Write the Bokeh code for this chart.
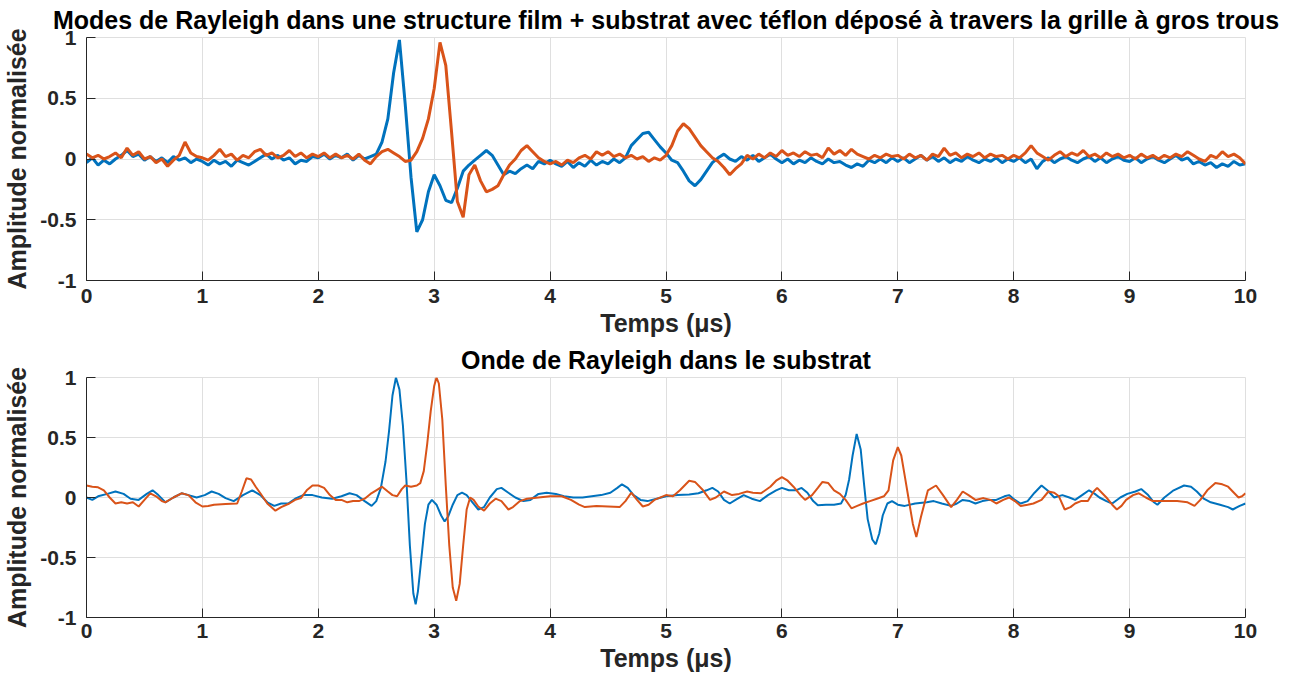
from bokeh.plotting import figure
from bokeh.layouts import column
from bokeh.models import Range1d, FixedTicker
from bokeh.embed import file_html
from bokeh.resources import INLINE

# ---------------- data ----------------
# top plot: sampled every 0.05 us from 0 to 10
top_t = [round(i * 0.05, 2) for i in range(201)]

top_blue = [
    -0.03, 0.01, -0.05, -0.01, -0.04, 0.00, 0.03, 0.07, 0.02, 0.04, -0.01, 0.02, -0.02, 0.01, -0.03, 0.02, -0.01, 0.01, -0.03, 0.00,
    -0.02, -0.05, -0.01, -0.04, -0.02, -0.06, -0.01, -0.03, -0.05, -0.02, 0.01, 0.04, 0.00, 0.03, -0.01, 0.01, -0.04, -0.01, -0.02, 0.02,
    0.01, 0.04, 0.00, 0.03, 0.01, 0.04, -0.01, 0.03, 0.00, 0.02, 0.04, 0.14, 0.33, 0.71, 0.98, 0.45, -0.15, -0.60, -0.50, -0.27,
    -0.13, -0.22, -0.34, -0.36, -0.24, -0.10, -0.05, -0.01, 0.03, 0.07, 0.03, -0.05, -0.13, -0.10, -0.12, -0.08, -0.05, -0.08, -0.02, -0.04,
    -0.01, -0.04, -0.06, -0.02, -0.07, -0.03, -0.06, -0.01, -0.05, -0.02, -0.04, 0.00, -0.03, 0.01, 0.11, 0.16, 0.21, 0.22, 0.16, 0.10,
    0.05, -0.01, -0.03, -0.10, -0.18, -0.22, -0.17, -0.10, -0.03, 0.01, 0.04, 0.00, -0.02, 0.02, -0.01, 0.03, -0.02, 0.01, 0.04, 0.00,
    -0.03, 0.00, -0.04, -0.01, -0.03, 0.01, -0.02, -0.04, 0.00, -0.03, -0.02, -0.05, -0.07, -0.04, -0.06, -0.01, -0.03, 0.00, -0.03, 0.01,
    -0.02, 0.01, -0.03, 0.00, 0.03, -0.01, 0.02, -0.02, 0.01, -0.03, 0.00, -0.02, 0.02, -0.01, -0.03, 0.00, -0.02, 0.01, -0.03, 0.00,
    -0.02, 0.01, -0.03, 0.00, -0.08, -0.02, 0.01, -0.03, 0.00, 0.02, -0.01, -0.03, 0.00, 0.02, -0.02, 0.01, -0.03, 0.00, 0.02, -0.01,
    -0.02, 0.01, -0.03, 0.00, 0.02, -0.01, -0.03, 0.00, 0.03, -0.01, 0.01, -0.04, -0.02, -0.05, -0.03, -0.07, -0.04, -0.06, -0.02, -0.05,
    -0.04,
]

top_orange = [
    0.04, 0.01, 0.03, 0.00, 0.02, 0.05, 0.01, 0.09, 0.03, 0.06, 0.00, 0.02, -0.03, 0.00, -0.06, -0.01, 0.03, 0.14, 0.05, 0.02,
    0.01, -0.01, 0.03, 0.08, 0.02, 0.04, -0.01, 0.03, 0.01, 0.06, 0.08, 0.03, 0.05, 0.01, 0.03, 0.07, 0.02, 0.05, 0.01, 0.04,
    0.02, 0.05, 0.01, 0.04, 0.01, 0.03, 0.00, 0.04, -0.01, -0.04, 0.02, 0.06, 0.08, 0.05, 0.02, -0.02, -0.01, 0.06, 0.17, 0.33,
    0.58, 0.96, 0.77, 0.22, -0.35, -0.48, -0.13, -0.05, -0.18, -0.27, -0.25, -0.22, -0.13, -0.05, 0.00, 0.07, 0.11, 0.06, 0.01, -0.02,
    -0.04, -0.02, -0.05, -0.01, -0.03, 0.01, 0.03, 0.00, 0.06, 0.03, 0.06, 0.02, 0.04, 0.01, 0.03, 0.00, 0.02, -0.02, 0.01, -0.01,
    0.03, 0.11, 0.23, 0.29, 0.25, 0.18, 0.11, 0.06, 0.01, -0.02, -0.07, -0.13, -0.08, -0.04, 0.03, 0.00, 0.04, 0.01, 0.05, 0.02,
    0.07, 0.03, 0.05, 0.02, 0.06, 0.03, 0.04, 0.01, 0.09, 0.04, 0.07, 0.03, 0.08, 0.04, 0.02, 0.00, 0.03, 0.01, 0.04, 0.02,
    0.03, 0.00, 0.04, 0.01, 0.03, -0.01, 0.04, 0.02, 0.09, 0.03, 0.05, 0.01, 0.04, 0.02, 0.05, 0.01, 0.04, 0.02, 0.03, 0.00,
    0.03, 0.01, 0.05, 0.11, 0.05, 0.02, -0.01, 0.03, 0.06, 0.02, 0.05, 0.03, 0.07, 0.02, 0.04, 0.01, 0.05, 0.02, 0.04, 0.01,
    0.03, 0.00, 0.04, 0.01, 0.03, 0.00, 0.03, 0.01, 0.04, 0.02, 0.06, 0.03, 0.00, -0.02, 0.03, 0.01, 0.06, 0.02, 0.04, 0.01,
    -0.04,
]

# bottom plot: read points (time, amplitude)
bot_blue_t = [
    0.00, 0.05, 0.10, 0.18, 0.25, 0.32, 0.38, 0.45, 0.52, 0.57, 0.62, 0.68, 0.75, 0.82, 0.88, 0.95,
    1.02, 1.08, 1.14, 1.20, 1.27, 1.35, 1.43, 1.50, 1.56, 1.62, 1.68, 1.74, 1.80, 1.87, 1.95,
    2.03, 2.12, 2.20, 2.27, 2.33, 2.40, 2.46, 2.50, 2.54, 2.58, 2.61, 2.64, 2.67, 2.70, 2.73, 2.76, 2.79,
    2.82, 2.84, 2.86, 2.89, 2.92, 2.95, 2.98, 3.02, 3.06, 3.09, 3.12, 3.16, 3.20, 3.24, 3.28, 3.33,
    3.38, 3.43, 3.48, 3.54, 3.58, 3.64, 3.70, 3.77, 3.83, 3.90, 3.97, 4.05, 4.12, 4.20, 4.28, 4.36,
    4.44, 4.52, 4.58, 4.62, 4.67, 4.72, 4.78, 4.84, 4.92, 5.00, 5.10, 5.20, 5.28, 5.35, 5.40, 5.45,
    5.50, 5.55, 5.60, 5.67, 5.74, 5.81, 5.88, 5.95, 6.00, 6.06, 6.12, 6.17, 6.22, 6.27, 6.31, 6.38,
    6.45, 6.51, 6.55, 6.58, 6.61, 6.645, 6.68, 6.71, 6.74, 6.78, 6.81, 6.84, 6.87, 6.91, 6.95, 7.00,
    7.06, 7.15, 7.25, 7.31, 7.38, 7.46, 7.51, 7.56, 7.62, 7.67, 7.73, 7.78, 7.85, 7.92, 7.96, 8.01,
    8.06, 8.12, 8.18, 8.24, 8.29, 8.35, 8.42, 8.48, 8.53, 8.59, 8.65, 8.70, 8.74, 8.80, 8.85, 8.92,
    8.98, 9.05, 9.10, 9.16, 9.21, 9.24, 9.30, 9.38, 9.47, 9.53, 9.58, 9.64, 9.70, 9.78, 9.85, 9.89,
    9.95, 10.00,
]
bot_blue = [
    0.00, -0.02, 0.01, 0.03, 0.05, 0.03, -0.01, -0.02, 0.03, 0.06, 0.02, -0.04, 0.00, 0.035, 0.02, 0.00,
    0.02, 0.05, 0.03, -0.005, -0.03, 0.02, 0.06, 0.02, -0.04, -0.07, -0.05, -0.05, -0.01, 0.02, 0.02,
    0.00, -0.01, 0.01, 0.035, 0.02, -0.03, -0.07, -0.03, 0.08, 0.30, 0.55, 0.85, 1.00, 0.90, 0.60, 0.15, -0.40,
    -0.80, -0.89, -0.78, -0.50, -0.22, -0.06, -0.02, -0.06, -0.15, -0.20, -0.16, -0.06, 0.02, 0.04, 0.02, -0.04,
    -0.10, -0.08, 0.00, 0.07, 0.08, 0.04, 0.00, -0.03, -0.02, 0.03, 0.04, 0.03, 0.01, 0.00, 0.00, 0.01,
    0.02, 0.04, 0.08, 0.11, 0.08, 0.02, -0.02, -0.03, -0.01, 0.01, 0.02, 0.025, 0.035, 0.06, 0.08, 0.05,
    -0.02, -0.05, -0.02, 0.02, -0.01, -0.03, 0.02, 0.06, 0.08, 0.06, 0.06, 0.08, 0.04, -0.03, -0.065, -0.06,
    -0.06, -0.05, 0.02, 0.15, 0.35, 0.53, 0.40, 0.10, -0.18, -0.35, -0.39, -0.30, -0.15, -0.05, -0.03, -0.06,
    -0.07, -0.05, -0.04, -0.03, -0.05, -0.07, -0.05, -0.02, -0.03, -0.05, -0.03, -0.02, -0.02, 0.01, 0.02, -0.02,
    -0.05, -0.03, 0.04, 0.10, 0.06, 0.00, 0.02, 0.00, -0.02, 0.02, 0.06, 0.03, 0.00, -0.03, -0.05, 0.00,
    0.03, 0.05, 0.07, 0.02, -0.04, -0.06, 0.00, 0.06, 0.10, 0.09, 0.05, -0.01, -0.04, -0.06, -0.08, -0.10,
    -0.07, -0.05,
]

bot_orange_t = [
    0.00, 0.05, 0.10, 0.15, 0.20, 0.25, 0.30, 0.35, 0.40, 0.45, 0.50, 0.55, 0.60, 0.65, 0.68, 0.75,
    0.82, 0.88, 0.94, 1.00, 1.05, 1.10, 1.20, 1.30, 1.34, 1.38, 1.42, 1.46, 1.50, 1.56, 1.63, 1.68,
    1.75, 1.80, 1.85, 1.90, 1.95, 2.00, 2.05, 2.10, 2.15, 2.20, 2.25, 2.30, 2.35, 2.40, 2.45, 2.50,
    2.55, 2.60, 2.64, 2.68, 2.72, 2.75, 2.80, 2.85, 2.88, 2.91, 2.94, 2.97, 3.00, 3.02, 3.04, 3.07,
    3.10, 3.13, 3.16, 3.19, 3.22, 3.25, 3.28, 3.31, 3.34, 3.38, 3.43, 3.48, 3.53, 3.58, 3.64, 3.68,
    3.74, 3.80, 3.90, 4.00, 4.10, 4.18, 4.25, 4.30, 4.40, 4.50, 4.60, 4.65, 4.70, 4.75, 4.80, 4.85,
    4.90, 5.00, 5.06, 5.12, 5.20, 5.25, 5.32, 5.38, 5.43, 5.50, 5.57, 5.63, 5.70, 5.75, 5.82, 5.90,
    5.95, 6.00, 6.05, 6.10, 6.16, 6.20, 6.26, 6.31, 6.35, 6.40, 6.45, 6.50, 6.55, 6.60, 6.65, 6.70,
    6.76, 6.82, 6.88, 6.92, 6.96, 7.00, 7.03, 7.06, 7.10, 7.13, 7.16, 7.20, 7.26, 7.33, 7.39, 7.46,
    7.51, 7.56, 7.61, 7.67, 7.74, 7.80, 7.85, 7.91, 7.96, 8.01, 8.06, 8.12, 8.17, 8.24, 8.30, 8.35,
    8.39, 8.44, 8.49, 8.53, 8.58, 8.64, 8.69, 8.72, 8.76, 8.80, 8.85, 8.89, 8.93, 8.97, 9.03, 9.08,
    9.14, 9.20, 9.30, 9.41, 9.50, 9.56, 9.61, 9.67, 9.74, 9.80, 9.85, 9.90, 9.94, 9.97, 10.00,
]
bot_orange = [
    0.10, 0.09, 0.085, 0.06, 0.00, -0.05, -0.04, -0.05, -0.04, -0.075, -0.02, 0.035, 0.01, -0.03, -0.04, 0.00,
    0.035, 0.02, -0.04, -0.075, -0.07, -0.06, -0.055, -0.05, 0.05, 0.16, 0.15, 0.09, 0.035, -0.05, -0.11, -0.08,
    -0.05, -0.02, -0.005, 0.06, 0.10, 0.10, 0.08, 0.02, -0.02, -0.02, -0.04, -0.03, -0.03, -0.01, 0.03, 0.06,
    0.09, 0.05, 0.02, 0.01, 0.07, 0.10, 0.09, 0.10, 0.12, 0.22, 0.45, 0.72, 0.93, 1.00, 0.95, 0.65,
    0.10, -0.40, -0.75, -0.86, -0.72, -0.40, -0.10, 0.00, -0.02, -0.075, -0.11, -0.05, -0.01, -0.03, -0.10, -0.08,
    -0.03, -0.01, 0.00, 0.01, 0.01, -0.02, -0.06, -0.08, -0.07, -0.075, -0.08, -0.03, 0.04, -0.02, -0.075, -0.06,
    -0.02, 0.02, 0.01, 0.06, 0.14, 0.13, 0.06, -0.02, 0.00, 0.05, 0.02, 0.03, 0.05, 0.04, 0.035, 0.09,
    0.14, 0.17, 0.14, 0.09, 0.02, -0.02, 0.02, 0.08, 0.13, 0.12, 0.06, 0.03, -0.02, -0.09, -0.07, -0.05,
    -0.03, -0.01, 0.01, 0.06, 0.31, 0.42, 0.35, 0.18, -0.05, -0.22, -0.33, -0.16, 0.06, 0.10, 0.02, -0.08,
    -0.02, 0.05, 0.02, -0.02, -0.005, -0.02, -0.05, -0.02, 0.00, -0.03, -0.07, -0.06, -0.05, -0.02, 0.05, 0.04,
    0.01, -0.10, -0.08, -0.05, -0.03, -0.03, 0.05, 0.08, 0.04, 0.00, -0.06, -0.10, -0.07, -0.02, 0.02, 0.035,
    0.00, -0.03, -0.03, -0.03, -0.04, -0.07, -0.02, 0.06, 0.12, 0.11, 0.09, 0.04, 0.00, 0.01, 0.035,
]

x_ticks = [0, 1, 2, 3, 4, 5, 6, 7, 8, 9, 10]
y_ticks = [-1, -0.5, 0, 0.5, 1]
y_tick_labels = {-1: "-1", -0.5: "-0.5", 0: "0", 0.5: "0.5", 1: "1"}

titles = [
    "Modes de Rayleigh dans une structure film + substrat avec téflon déposé à travers la grille à gros trous",
    "Onde de Rayleigh dans le substrat",
]
x_label = "Temps (μs)"
y_label = "Amplitude normalisée"

BLUE = "#0072BD"
ORANGE = "#D95319"
FONT = "Liberation Sans"
AX = "#262626"
GRID = "#dfdfdf"


def make_fig(title, frame_h, title_standoff, tick_standoff, label_standoff):
    p = figure(frame_width=1159, frame_height=frame_h, output_backend="svg", toolbar_location=None,
               x_range=Range1d(0, 10), y_range=Range1d(-1, 1),
               min_border_left=0, min_border_right=42,
               min_border_top=0, min_border_bottom=0)
    p.title.text = title
    p.title.align = "center"
    p.title.text_font = FONT
    p.title.text_font_size = "25px"
    p.title.text_font_style = "bold"
    p.title.text_color = "#000000"
    p.title.standoff = title_standoff
    p.title.offset = 0
    p.outline_line_color = GRID
    p.outline_line_width = 1
    p.background_fill_color = "white"
    p.border_fill_color = "white"
    p.xgrid.grid_line_color = GRID
    p.ygrid.grid_line_color = GRID
    p.xaxis.ticker = FixedTicker(ticks=x_ticks)
    p.yaxis.ticker = FixedTicker(ticks=y_ticks)
    p.yaxis.major_label_overrides = y_tick_labels
    for ax in (p.xaxis[0], p.yaxis[0]):
        ax.axis_line_color = AX
        ax.axis_line_width = 1
        ax.major_tick_line_color = AX
        ax.major_tick_in = 9
        ax.major_tick_out = 0
        ax.minor_tick_in = 0
        ax.minor_tick_out = 0
        ax.major_label_text_font = FONT
        ax.major_label_text_font_size = "21px"
        ax.major_label_text_font_style = "bold"
        ax.major_label_text_color = AX
        ax.axis_label_text_font = FONT
        ax.axis_label_text_font_size = "25px"
        ax.axis_label_text_font_style = "bold"
        ax.axis_label_text_color = AX
    p.xaxis.axis_label = x_label
    p.yaxis.axis_label = y_label
    p.xaxis.major_label_standoff = tick_standoff
    p.xaxis.axis_label_standoff = label_standoff
    p.yaxis.major_label_standoff = 10
    p.yaxis.axis_label_standoff = 6
    return p


p1 = make_fig(titles[0], 243, 7, 8, 3)
p1.line(top_t, top_blue, line_color=BLUE, line_width=3)
p1.line(top_t, top_orange, line_color=ORANGE, line_width=3)

p2 = make_fig(titles[1], 240, 8, 6, 3)
p2.line(bot_blue_t, bot_blue, line_color=BLUE, line_width=2)
p2.line(bot_orange_t, bot_orange, line_color=ORANGE, line_width=2)

layout = column(p1, p2, spacing=0)
open("out.html", "w").write(file_html(layout, INLINE))
